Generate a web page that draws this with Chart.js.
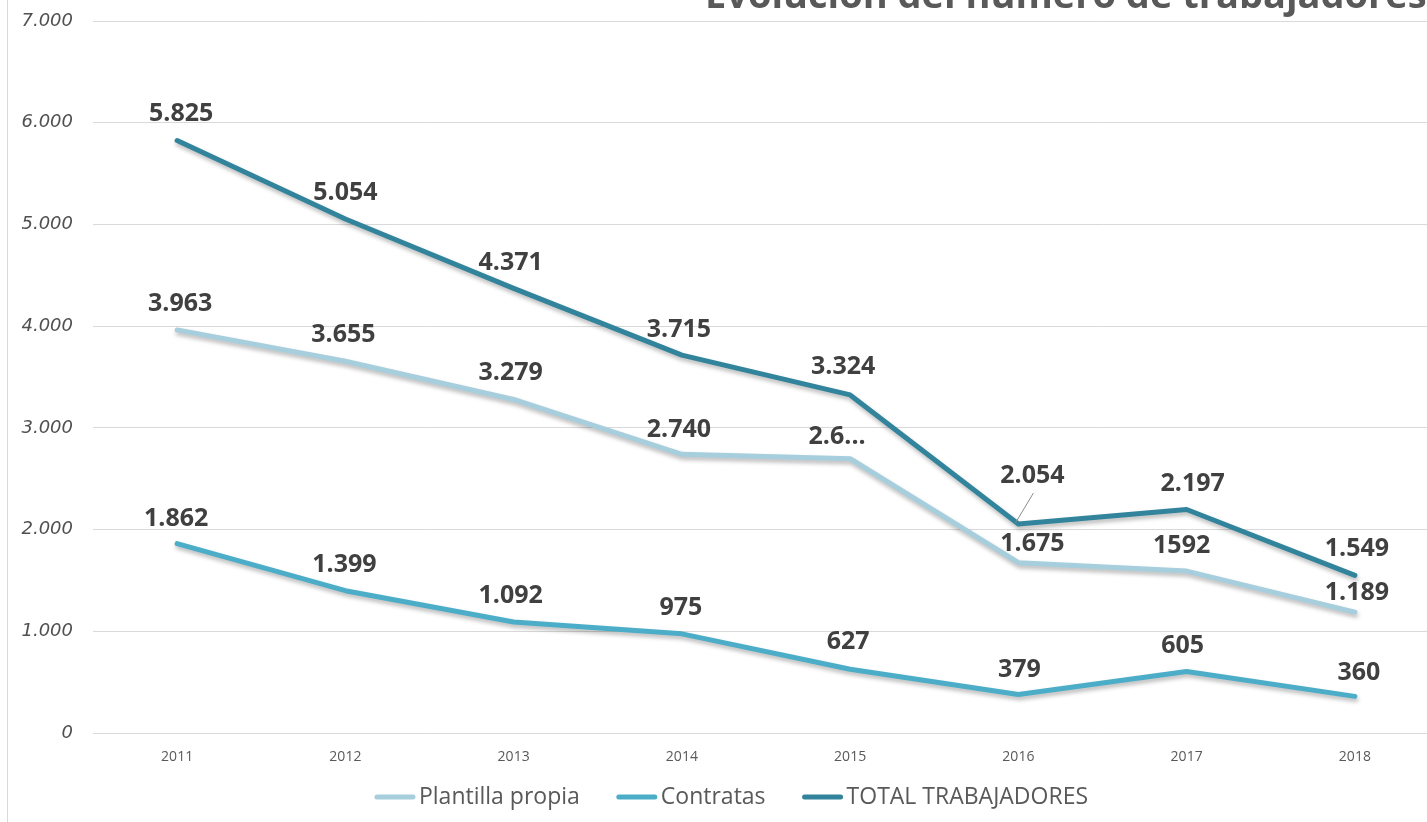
<!DOCTYPE html>
<html>
<head>
<meta charset="utf-8">
<script src="https://cdn.jsdelivr.net/npm/chart.js@4/dist/chart.umd.min.js"></script>
<style>
  html, body { margin: 0; padding: 0; background: #ffffff; overflow: hidden; }
  #wrap { position: absolute; left: 0; top: 0; width: 1445px; height: 822px; }
</style>
</head>
<body>
<div id="wrap"><canvas id="c"></canvas></div>
<script>
// ---- Data ----
const years = ['2011', '2012', '2013', '2014', '2015', '2016', '2017', '2018'];
const plantillaPropia = [3963, 3655, 3279, 2740, 2697, 1675, 1592, 1189];
const contratas = [1862, 1399, 1092, 975, 627, 379, 605, 360];
const totalTrabajadores = [5825, 5054, 4371, 3715, 3324, 2054, 2197, 1549];
const plantillaLabels = ['3.963', '3.655', '3.279', '2.740', '2.6...', '1.675', '1592', '1.189'];
const contratasLabels = ['1.862', '1.399', '1.092', '975', '627', '379', '605', '360'];
const totalLabels = ['5.825', '5.054', '4.371', '3.715', '3.324', '2.054', '2.197', '1.549'];
const yTickLabels = ['0', '1.000', '2.000', '3.000', '4.000', '5.000', '6.000', '7.000'];
const seriesNames = ['Plantilla propia', 'Contratas', 'TOTAL TRABAJADORES'];
const chartTitle = 'Evolución del número de trabajadores';

// ---- Label placement (style) ----
const labelNudges = [
  [[3,-26],[-2,-26],[-3,-27],[-3,-24],[-13,-22],[14,-19],[-5,-25],[2,-19]],
  [[-1,-25],[-1,-26],[-3,-26],[-1,-26],[-2,-27],[1,-25],[-4,-26],[4,-24]],
  [[4,-27],[0,-26],[-3,-26],[-3,-25],[-7,-28],[14,-48],[6,-26],[2,-27]]
];
const labelTexts = [plantillaLabels, contratasLabels, totalLabels];
const colors = ['#a6cedc', '#4badc7', '#31849b'];
const seriesData = [plantillaPropia, contratas, totalTrabajadores];

const frame = {
  id: 'frame',
  beforeDraw(chart) {
    const ctx = chart.ctx;
    ctx.save();
    ctx.fillStyle = '#d9d9d9';
    ctx.fillRect(7, 0, 1, chart.height);
    ctx.restore();
  },
  afterDraw(chart) {
    const ctx = chart.ctx;
    ctx.save();
    // title (cropped at top in the original)
    ctx.font = 'bold 38px "Open Sans"';
    ctx.fillStyle = '#595959';
    ctx.textAlign = 'left';
    ctx.textBaseline = 'alphabetic';
    ctx.fillText(chartTitle, 705, 8);

    // legend
    ctx.font = '23px "Open Sans"';
    ctx.textBaseline = 'middle';
    const lineW = 40, gapLT = 4, gapItem = 37, yc = 797;
    const widths = seriesNames.map(n => lineW + gapLT + ctx.measureText(n).width);
    const total = widths.reduce((a, b) => a + b, 0) + gapItem * (widths.length - 1);
    let x = 731.5 - total / 2;
    seriesNames.forEach((n, i) => {
      ctx.strokeStyle = colors[i];
      ctx.lineWidth = 5;
      ctx.lineCap = 'round';
      ctx.beginPath();
      ctx.moveTo(x + 2, yc);
      ctx.lineTo(x + lineW - 2, yc);
      ctx.stroke();
      ctx.fillStyle = '#595959';
      ctx.fillText(n, x + lineW + gapLT, yc);
      x += widths[i] + gapItem;
    });
    ctx.restore();
  }
};

const shadow = {
  id: 'shadow',
  beforeDatasetDraw(chart) {
    const ctx = chart.ctx;
    ctx.save();
    ctx.shadowColor = 'rgba(0,0,0,0.28)';
    ctx.shadowBlur = 4;
    ctx.shadowOffsetX = 1;
    ctx.shadowOffsetY = 3;
  },
  afterDatasetDraw(chart) {
    chart.ctx.restore();
  }
};

const dataLabels = {
  id: 'dataLabels',
  afterDatasetsDraw(chart) {
    const ctx = chart.ctx;
    ctx.save();
    ctx.font = 'bold 25px "Open Sans"';
    ctx.fillStyle = '#404040';
    ctx.textAlign = 'center';
    ctx.textBaseline = 'middle';
    chart.data.datasets.forEach((ds, i) => {
      const meta = chart.getDatasetMeta(i);
      meta.data.forEach((pt, j) => {
        const n = labelNudges[i][j];
        const x = pt.x + n[0];
        const y = pt.y + n[1];
        if (i === 2 && j === 5) {
          ctx.save();
          ctx.strokeStyle = '#8c8c8c';
          ctx.lineWidth = 1;
          ctx.beginPath();
          ctx.moveTo(pt.x - 3, pt.y - 1);
          ctx.lineTo(x + 1, y + 17);
          ctx.stroke();
          ctx.restore();
        }
        ctx.fillText(labelTexts[i][j], x, y);
      });
    });
    ctx.restore();
  }
};

new Chart(document.getElementById('c'), {
  type: 'line',
  data: {
    labels: years,
    datasets: seriesData.map((d, i) => ({
      label: seriesNames[i],
      data: d,
      borderColor: colors[i],
      backgroundColor: colors[i],
      borderWidth: 5,
      borderCapStyle: 'round',
      borderJoinStyle: 'round',
      pointRadius: 0,
      pointHoverRadius: 0,
      tension: 0,
      fill: false
    }))
  },
  options: {
    responsive: true,
    maintainAspectRatio: false,
    animation: false,
    layout: { padding: { left: 0, right: 6, top: 21, bottom: 59 } },
    plugins: {
      tooltip: { enabled: false },
      title: { display: false },
      legend: { display: false }
    },
    scales: {
      x: {
        offset: true,
        afterFit(scale) { scale.height = 30; scale.paddingLeft = 0; scale.paddingRight = 0; },
        grid: { display: false, drawTicks: false },
        border: { display: false },
        ticks: {
          color: '#595959',
          font: { family: '"Open Sans"', size: 14 },
          padding: 16,
          maxRotation: 0
        }
      },
      y: {
        min: 0,
        max: 7000,
        afterFit(scale) { scale.width = 93; scale.paddingTop = 0; scale.paddingBottom = 0; },
        afterBuildTicks(scale) {
          scale.ticks = yTickLabels.map((t, i) => ({ value: i * 1000 }));
        },
        grid: { color: '#d9d9d9', lineWidth: 1, drawTicks: false },
        border: { display: false },
        ticks: {
          color: '#505050',
          font: { family: '"DejaVu Sans"', size: 18, style: 'italic' },
          padding: 20,
          callback: (v, i) => yTickLabels[i]
        }
      }
    }
  },
  plugins: [frame, shadow, dataLabels]
});
</script>
</body>
</html>
